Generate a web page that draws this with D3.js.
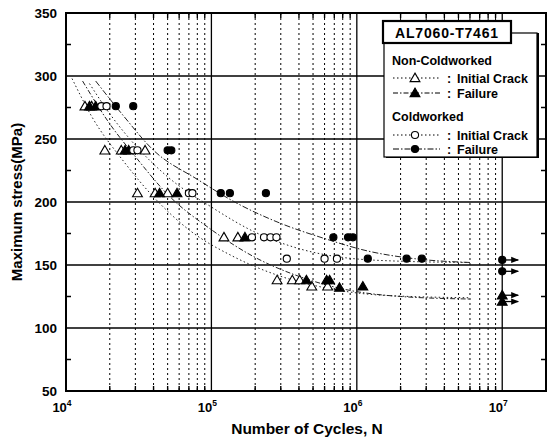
<!DOCTYPE html>
<html><head><meta charset="utf-8">
<script src="https://cdn.jsdelivr.net/npm/d3@7"></script>
<style>
body{margin:0;background:#fff;}
svg text{font-family:Arial,"Liberation Sans",sans-serif;font-weight:bold;fill:#000;}
</style></head>
<body><svg id="c" width="551" height="448"></svg>
<script>
// ---- data ----
const yTicks = [50,100,150,200,250,300,350];
const yMinor = [75,125,175,225,275,325];
const xDecades = [1e4,1e5,1e6,1e7];
const xExp = ["4","5","6","7"];
// Non-Coldworked initial crack (open triangle)
const nciN = [1.35e4,1.5e4,1.85e4,2.4e4,3.5e4,3.1e4,4.1e4,5.0e4,1.22e5,1.52e5,2.83e5,3.6e5,4.05e5,4.9e5,6.3e5];
const nciS = [276,276,241,241,241,207,207,207,172,172,138,138,138,133,133];
// Non-Coldworked failure (filled triangle)
const ncfN = [1.45e4,1.6e4,2.55e4,2.7e4,4.4e4,5.8e4,1.7e5,4.5e5,6.2e5,6.5e5,7.6e5,1.1e6];
const ncfS = [276,276,241,241,207,207,172,138,138,138,132,133];
// Coldworked initial crack (open circle)
const ciN = [1.75e4,1.9e4,2.9e4,3.1e4,7.0e4,7.4e4,1.9e5,2.3e5,2.55e5,2.8e5,3.3e5,6.0e5,7.3e5];
const ciS = [276,276,241,241,207,207,172,172,172,172,155,155,155];
// Coldworked failure (filled circle)
const cfN = [2.2e4,2.9e4,5.0e4,5.3e4,1.16e5,1.34e5,2.37e5,6.9e5,8.7e5,9.4e5,1.19e6,2.2e6,2.8e6];
const cfS = [276,276,241,241,207,207,207,172,172,172,155,155,155];
// Run-outs at 10^7 (no failure)
const runN = [1e7,1e7,1e7,1e7];
const runS = [154,145,126,121];
const runType = ["cf","cf","ncf","ncf"];
// fitted curves
const curveCfN = [1.6e4,2.5e4,4e4,8e4,1.5e5,3e5,6e5,1.2e6,2.5e6,6e6];
const curveCfS = [296,268,241,218,199,183,171,161,155,152];
const curveCiN = [1.45e4,2e4,3e4,5e4,1e5,2e5,4e5,8e5,2e6,6e6];
const curveCiS = [294,270,245,220,196,176,163,156,153,152];
const curveNcfN = [1.3e4,2e4,3e4,5e4,1e5,2e5,4e5,8e5,2e6,6e6];
const curveNcfS = [296,262,236,206,178,156,141,131,125,123];
const curveNciN = [1.1e4,1.5e4,2.5e4,4e4,7e4,1.4e5,3e5,6e5,1.5e6,6e6];
const curveNciS = [298,268,232,204,178,157,141,132,126,124];

// ---- chart ----
const svg = d3.select("#c");
const L=66,R=546,T=13,B=391;
const x = d3.scaleLog().domain([1e4,2e7]).range([L,R]);
const y = d3.scaleLinear().domain([50,350]).range([B,T]);

// vertical grid
const minorX=[];
for(let d=1e4; d<2e7; d*=10){ for(let k=2;k<=9;k++){ const v=k*d; if(v<2e7) minorX.push(v);} }
svg.append("g").selectAll("line").data(minorX).join("line")
  .attr("x1",d=>x(d)).attr("x2",d=>x(d)).attr("y1",T).attr("y2",B)
  .attr("stroke","#000").attr("stroke-width",1).attr("stroke-dasharray","2,3");
svg.append("g").selectAll("line").data(xDecades.slice(1)).join("line")
  .attr("x1",d=>x(d)).attr("x2",d=>x(d)).attr("y1",T).attr("y2",B)
  .attr("stroke","#000").attr("stroke-width",1.3);
// horizontal grid
svg.append("g").selectAll("line").data(yTicks.slice(1,-1)).join("line")
  .attr("x1",L).attr("x2",R).attr("y1",d=>y(d)).attr("y2",d=>y(d))
  .attr("stroke","#000").attr("stroke-width",1.3);
// frame
svg.append("rect").attr("x",L).attr("y",T).attr("width",R-L).attr("height",B-T)
  .attr("fill","none").attr("stroke","#000").attr("stroke-width",2);
// minor ticks
svg.append("g").selectAll("line").data(yMinor).join("line")
  .attr("x1",L).attr("x2",L+5).attr("y1",d=>y(d)).attr("y2",d=>y(d)).attr("stroke","#000").attr("stroke-width",1.5);
svg.append("g").selectAll("line").data(yMinor).join("line")
  .attr("x1",R-5).attr("x2",R).attr("y1",d=>y(d)).attr("y2",d=>y(d)).attr("stroke","#000").attr("stroke-width",1.5);
svg.append("g").selectAll("line").data(minorX).join("line")
  .attr("x1",d=>x(d)).attr("x2",d=>x(d)).attr("y1",B-5).attr("y2",B).attr("stroke","#000").attr("stroke-width",1.4);
svg.append("g").selectAll("line").data(minorX).join("line")
  .attr("x1",d=>x(d)).attr("x2",d=>x(d)).attr("y1",T).attr("y2",T+5).attr("stroke","#000").attr("stroke-width",1.4);

// axis labels
svg.append("g").selectAll("text").data(yTicks).join("text")
  .attr("x",L-9).attr("y",d=>y(d)+5).attr("text-anchor","end").attr("font-size",13.5).text(d=>d);
const xl = svg.append("g").selectAll("text").data(xDecades).join("text")
  .attr("x",d=>x(d)-4).attr("y",B+21).attr("text-anchor","middle").attr("font-size",13);
xl.append("tspan").text("10");
xl.append("tspan").attr("dy",-6).attr("font-size",8.5).text((d,i)=>xExp[i]);
svg.append("text").attr("x",307).attr("y",B+43).attr("text-anchor","middle").attr("font-size",15.5).text("Number of Cycles, N");
svg.append("text").attr("transform","translate(22,"+((T+B)/2)+") rotate(-90)").attr("text-anchor","middle").attr("font-size",15).text("Maximum stress(MPa)");

// curves
const line = d3.line().x(d=>x(d[0])).y(d=>y(d[1])).curve(d3.curveMonotoneX);
function curve(N,S,dash){
  svg.append("path").attr("d",line(N.map((n,i)=>[n,S[i]]))).attr("fill","none")
    .attr("stroke","#222").attr("stroke-width",1).attr("stroke-dasharray",dash);
}
curve(curveNciN,curveNciS,"1.5,2.5");
curve(curveNcfN,curveNcfS,"5,2,1.5,2");
curve(curveCiN,curveCiS,"1.5,2.5");
curve(curveCfN,curveCfS,"6,2,1.5,2");

// markers
const tri = d3.symbol().type(d3.symbolTriangle).size(42);
const cir = d3.symbol().type(d3.symbolCircle).size(40);
function pts(N,S,sym,fill){
  svg.append("g").selectAll("path").data(N).join("path")
    .attr("transform",(d,i)=>`translate(${x(d)},${y(S[i])+(sym===tri?0.8:0)})`)
    .attr("d",sym).attr("fill",fill).attr("stroke","#000").attr("stroke-width",1.1);
}
// run-out arrows
svg.append("defs").append("marker").attr("id","ah").attr("viewBox","0 0 10 10").attr("refX",9).attr("refY",5)
  .attr("markerWidth",6).attr("markerHeight",6).attr("orient","auto")
  .append("path").attr("d","M0,1L10,5L0,9Z").attr("fill","#000");
svg.append("g").selectAll("line").data(runN).join("line")
  .attr("x1",d=>x(d)).attr("x2",d=>x(d)+16).attr("y1",(d,i)=>y(runS[i])).attr("y2",(d,i)=>y(runS[i]))
  .attr("stroke","#000").attr("stroke-width",1.3).attr("marker-end","url(#ah)");
pts(nciN,nciS,tri,"#fff");
pts(ncfN,ncfS,tri,"#000");
pts(ciN,ciS,cir,"#fff");
pts(cfN,cfS,cir,"#000");
pts(runN.filter((d,i)=>runType[i]==="ncf"),runS.filter((d,i)=>runType[i]==="ncf"),tri,"#000");
pts(runN.filter((d,i)=>runType[i]==="cf"),runS.filter((d,i)=>runType[i]==="cf"),cir,"#000");

// legend
const lg = svg.append("g");
lg.append("rect").attr("x",386).attr("y",33).attr("width",153).attr("height",125).attr("fill","#000");
lg.append("rect").attr("x",384).attr("y",33).attr("width",153).attr("height",124).attr("fill","#fff").attr("stroke","#000").attr("stroke-width",1.2);
lg.append("rect").attr("x",383).attr("y",21).attr("width",128).attr("height",22).attr("fill","#fff").attr("stroke","#000").attr("stroke-width",2.2);
lg.append("text").attr("x",447).attr("y",37.5).attr("text-anchor","middle").attr("font-size",14).attr("letter-spacing",0.8).text("AL7060-T7461");
const rows=[
  {t:"Non-Coldworked",y:65,head:true},
  {t:"Initial Crack",y:78,sym:tri,fill:"#fff",dash:"1.5,2.5"},
  {t:"Failure",y:93,sym:tri,fill:"#000",dash:"5,2,1.5,2"},
  {t:"Coldworked",y:121,head:true},
  {t:"Initial Crack",y:135,sym:cir,fill:"#fff",dash:"1.5,2.5"},
  {t:"Failure",y:149,sym:cir,fill:"#000",dash:"6,2,1.5,2"}];
rows.forEach(r=>{
  if(r.head){ lg.append("text").attr("x",392).attr("y",r.y).attr("font-size",12.5).text(r.t); return; }
  lg.append("line").attr("x1",393).attr("x2",440).attr("y1",r.y).attr("y2",r.y).attr("stroke","#000").attr("stroke-width",1).attr("stroke-dasharray",r.dash);
  lg.append("path").attr("transform",`translate(415,${r.y+(r.sym===tri?0.8:0)})`).attr("d",r.sym).attr("fill",r.fill).attr("stroke","#000").attr("stroke-width",1.1);
  lg.append("text").attr("x",447).attr("y",r.y+4.5).attr("font-size",12.5).text(":");
  lg.append("text").attr("x",457).attr("y",r.y+4.5).attr("font-size",12.5).text(r.t);
});
</script></body></html>
